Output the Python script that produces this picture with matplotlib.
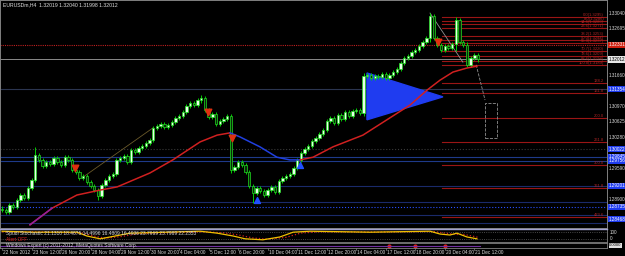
import matplotlib
matplotlib.use("Agg")
import matplotlib.pyplot as plt
from matplotlib.patches import Polygon, Rectangle

plt.rcParams["font.family"] = ["Liberation Sans Narrow", "Liberation Sans", "DejaVu Sans"]

# ====== data ======
title = "EURUSDm,H4  1.32019 1.32040 1.31998 1.32012"

closes = [
    1.2867, 1.2862, 1.2878, 1.2873, 1.2889, 1.2900, 1.2893, 1.2916, 1.2933, 1.2989,
    1.2978, 1.2964, 1.2973, 1.2969, 1.2982, 1.2973, 1.2967, 1.2984, 1.2978, 1.2956,
    1.2951, 1.2938, 1.2942, 1.2929, 1.2920, 1.2911, 1.2898, 1.2922, 1.2933, 1.2942,
    1.2947, 1.2978, 1.2982, 1.2987, 1.2973, 1.3000, 1.2996, 1.3004, 1.3009, 1.3016,
    1.3022, 1.3049, 1.3053, 1.3058, 1.3051, 1.3056, 1.3062, 1.3071, 1.3075, 1.3084,
    1.3098, 1.3104, 1.3100, 1.3111, 1.3115, 1.3089, 1.3073, 1.3080, 1.3058, 1.3064,
    1.3069, 1.3075, 1.2956, 1.2962, 1.2973, 1.2967, 1.2951, 1.2920, 1.2905, 1.2916,
    1.2909, 1.2900, 1.2911, 1.2918, 1.2907, 1.2931, 1.2938, 1.2942, 1.2947, 1.2960,
    1.2978, 1.2993, 1.3002, 1.3009, 1.3020, 1.3027, 1.3036, 1.3044, 1.3064, 1.3071,
    1.3060, 1.3078, 1.3069, 1.3084, 1.3075, 1.3087, 1.3089, 1.3082, 1.3164, 1.3167,
    1.3160, 1.3164, 1.3162, 1.3169, 1.3160, 1.3167, 1.3173, 1.3180, 1.3193, 1.3204,
    1.3209, 1.3218, 1.3222, 1.3231, 1.3240, 1.3249, 1.3297, 1.3249, 1.3233, 1.3222,
    1.3231, 1.3226, 1.3235, 1.3289, 1.3240, 1.3233, 1.3189, 1.3204, 1.3211, 1.3201,
]
first_open = 1.2870
wick_pad = 0.0005
long_wicks = {9: (1.3007, 1.2928), 26: (1.2915, 1.2889), 54: (1.3122, 1.3105),
              62: (1.3080, 1.2950), 68: (1.2925, 1.2882), 116: (1.3304, 1.3240),
              123: (1.3295, 1.3220), 126: (1.3240, 1.3184), 98: (1.3171, 1.3075)}

# moving average, coloured by slope (bar, price)
ma_up1 = [(7.6, 1.2834), (13.6, 1.2871), (20.3, 1.2900), (26.6, 1.2911), (31.2, 1.2918),
          (40.1, 1.2949), (46.3, 1.2978), (53.7, 1.3018), (58.3, 1.3033), (61.8, 1.3038)]
ma_down = [(61.8, 1.3038), (64.5, 1.3029), (69.9, 1.3007), (74.5, 1.2984), (78.0, 1.2978),
           (80.8, 1.2978)]
ma_up2 = [(80.8, 1.2978), (84.3, 1.2984), (89.7, 1.3007), (97.8, 1.3033), (104.3, 1.3067),
          (110.6, 1.3100), (115.2, 1.3133), (118.7, 1.3155), (122.2, 1.3173), (126.0, 1.3182),
          (128.7, 1.3186)]

fib_prices = [1.32953, 1.32864, 1.32797, 1.32708, 1.32531, 1.32442, 1.32375, 1.32198, 1.32087,
              1.31976, 1.31887, 1.31487, 1.31265, 1.30710, 1.30178, 1.29667, 1.29156, 1.28513]
fib_levels = ["0.0", "8.0", "14.6", "23.6", "38.2", "50.0", "55.9", "70.7", "78.6", "88.6",
              "100.0", "138.2", "161.8", "200.0", "261.8", "300.0", "361.8", "423.6"]

hlines = [(1.31354, "#2b3550", "-"), (1.30022, "#3a3a3a", ":"), (1.29845, "#1e3a8a", "-"),
          (1.29756, "#1e3a8a", "-"), (1.29201, "#1a2a6a", "-"), (1.28845, "#1a2a6a", "-"),
          (1.28735, "#2a50ff", ":"), (1.28557, "#1a2a6a", "-"), (1.28379, "#1a2a6a", "-")]
red_line = 1.32331
bid = 1.32012

axis_prices = [1.33040, 1.32695, 1.31660, 1.30970, 1.30625, 1.30280, 1.29590, 1.28900]
blue_boxes = [1.31354, 1.30022, 1.29845, 1.29756, 1.29201, 1.28735, 1.28468]

triangle = [(98.9, 1.3171), (98.9, 1.3067), (119.5, 1.3118)]
olive_line = [(22.0, 1.2940), (40.9, 1.3049)]
gray_diag = [(116.0, 1.3304), (124.9, 1.3195)]
proj_line = [(128.5, 1.3189), (130.9, 1.3111)]
proj_box = (130.9, 1.3027, 3.2, 0.0077)

down_arrows = [(19.8, 1.2960), (55.8, 1.3084), (62.3, 1.3027), (118.2, 1.3240)]
up_arrows = [(69.1, 1.2889), (80.8, 1.2967)]

stoch_main = [(0, 85), (8.4, 77), (20.3, 77), (23, 46), (26.6, 23), (29.3, 38), (34.7, 69),
              (44.7, 77), (53.7, 85), (58.3, 69), (62.6, 46), (65.9, 23), (70.7, 15),
              (75.3, 38), (78.9, 77), (83.5, 85), (99.7, 77), (116, 85), (118.7, 62),
              (121.4, 54), (123.3, 69), (126, 38), (128.7, 23)]
stoch_signal = [(0, 80), (10, 80), (22, 70), (25, 45), (28, 28), (32, 40), (37, 65), (48, 75),
                (55, 80), (60, 72), (64, 55), (68, 30), (72, 20), (77, 35), (81, 70), (86, 80),
                (102, 78), (117, 82), (120, 70), (123, 58), (125, 60), (128, 42), (129, 35)]
stoch_text = "Spudi Stochastic 21.1310 18.4675 14.4996 16.4809 16.4936 23.7969 23.7969 22.2353"
expert_text = "Windows Expert (c) 2011-2012, MetaQuotes Software Corp."

time_labels = ["22 Nov 2012", "23 Nov 12:00", "26 Nov 20:00", "28 Nov 04:00", "29 Nov 12:00",
               "30 Nov 20:00", "4 Dec 04:00", "5 Dec 12:00", "6 Dec 20:00", "10 Dec 04:00",
               "11 Dec 12:00", "12 Dec 20:00", "14 Dec 04:00", "17 Dec 12:00", "18 Dec 20:00",
               "20 Dec 04:00", "21 Dec 12:00"]
bars_per_label = 8

# ====== layout (pixel based) ======
W, H = 625, 256
fig = plt.figure(figsize=(W / 100, H / 100), dpi=100, facecolor="black")
FS = 3.7   # small terminal font
AFS = 3.3  # price scale font
BAR_PX = 3.69  # pixels per bar


def box(x0, y0, x1, y1):
    return [x0 / W, 1 - y1 / H, (x1 - x0) / W, (y1 - y0) / H]


XL = (-2 / BAR_PX, 605 / BAR_PX)
ax = fig.add_axes(box(0, 0, 607, 228), facecolor="black")
ax.set_xlim(*XL)
ax.set_ylim(1.28268, 1.33330)
for s in ax.spines.values():
    s.set_color("#808080")
    s.set_linewidth(0.7)
ax.set_xticks([])
ax.set_yticks([])

# horizontal levels
for p, c, ls in hlines:
    ax.axhline(p, color=c, ls=ls, lw=0.8, zorder=1)
ax.axhline(red_line, color="#c02020", ls=(0, (1, 1)), lw=0.8, zorder=1)
ax.axhline(bid, color="#8a8a8a", lw=0.7, zorder=1)

# fibonacci
for p, lvl in zip(fib_prices, fib_levels):
    ax.plot([119.2, XL[1]], [p, p], color="#9a1515", lw=0.8, zorder=2)
    txt = lvl if float(lvl) > 100 else f"{lvl}({p:.4f})"
    ax.text(604 / BAR_PX - 0.5, p + 0.00004, txt, color="#b02525", fontsize=3.0,
            ha="right", va="bottom", zorder=3)

# candles
opens = [first_open] + closes[:-1]
for i, (o, c) in enumerate(zip(opens, closes)):
    hi, lo = long_wicks.get(i, (max(o, c) + wick_pad, min(o, c) - wick_pad))
    ax.vlines(i, lo, hi, color="#00d000", lw=0.7, zorder=4)
    bull = c >= o
    ax.add_patch(Rectangle((i - 0.32, min(o, c)), 0.64, max(abs(c - o), 0.00008),
                           facecolor="#e8ffe8" if bull else "#0a2a0a",
                           edgecolor="#20e020", lw=0.5, zorder=5))

# moving average
ax.plot(*zip(*ma_up1), color="#d02020", lw=1.1, zorder=6)
ax.plot(*zip(*ma_up1[:2]), color="#9020a0", lw=1.1, zorder=6)
ax.plot(*zip(*ma_down), color="#2040e0", lw=1.1, zorder=6)
ax.plot(*zip(*ma_up2), color="#d02020", lw=1.1, zorder=6)

# objects
ax.add_patch(Polygon(triangle, closed=True, facecolor="#1f3cf0", edgecolor="#1f3cf0", zorder=3))
ax.plot(*zip(*olive_line), color="#6b5a2a", lw=0.6, zorder=3)
ax.plot(*zip(*gray_diag), color="#909090", lw=0.6, zorder=3)
ax.plot(*zip(*proj_line), color="#909090", lw=0.6, ls="--", zorder=3)
ax.add_patch(Rectangle(proj_box[:2], proj_box[2], proj_box[3], fill=False,
                       edgecolor="#909090", lw=0.6, ls="--", zorder=3))
ax.scatter(*zip(*down_arrows), marker="v", s=22, color="#e03010", zorder=7)
ax.scatter(*zip(*up_arrows), marker="^", s=18, color="#2050ff", zorder=7)

fig.text(3 / W, 1 - 5 / H, title, color="#e0e0e0", fontsize=FS, va="center")


# right price scale
def ypix(p):
    return (1.33330 - p) / 0.000222


for p in axis_prices:
    fig.text(609 / W, 1 - ypix(p) / H, f"{p:.5f}", color="#d8d8d8", fontsize=AFS, va="center")


def price_box(p, fc, tc):
    fig.text(609 / W, 1 - ypix(p) / H, f"{p:.5f}", color=tc, fontsize=AFS, va="center",
             bbox=dict(boxstyle="square,pad=0.15", fc=fc, ec="none"))


for p in blue_boxes:
    price_box(p, "#1f3cf0", "white")
price_box(red_line, "#d02010", "white")
price_box(bid, "#e8e8e8", "black")

# stochastic sub window
ax2 = fig.add_axes(box(0, 229, 607, 242), facecolor="black")
ax2.set_xlim(*XL)
ax2.set_ylim(-3, 103)
ax2.set_xticks([])
ax2.set_yticks([])
for s in ax2.spines.values():
    s.set_color("#808080")
    s.set_linewidth(0.6)
ax2.spines["top"].set_color("#a0a0d0")
ax2.spines["top"].set_linewidth(1.0)
for lv in (80, 20):
    ax2.axhline(lv, color="#606060", ls=":", lw=0.6)
ax2.plot(*zip(*stoch_signal), color="#d02020", ls=":", lw=0.9)
ax2.plot(*zip(*stoch_main), color="#f0c000", lw=0.9)
ax2.text(1, 68, stoch_text, color="#d8d8d8", fontsize=3.5, va="center")
ax2.text(1, 18, "Alert OFF", color="#e02020", fontsize=3.5, va="center")
fig.text(610 / W, 1 - 233 / H, "100", color="#d8d8d8", fontsize=AFS, va="center")
fig.text(610 / W, 1 - 239 / H, "0", color="#d8d8d8", fontsize=AFS, va="center")

# expert sub window
ax3 = fig.add_axes(box(0, 243, 607, 248), facecolor="black")
ax3.set_xlim(*XL)
ax3.set_ylim(0, 1)
ax3.set_xticks([])
ax3.set_yticks([])
for s in ax3.spines.values():
    s.set_color("#808080")
    s.set_linewidth(0.6)
ax3.axhline(0.45, xmin=0, xmax=0.79, color="#7030a0", lw=0.8)
ax3.scatter([105, 112, 120], [0.45] * 3, s=4, color="#e02020")
ax3.text(1, 0.55, expert_text, color="#d8d8d8", fontsize=3.5, va="center")
fig.text(609 / W, 1 - 245.5 / H, "0.0000", color="black", fontsize=3.0, va="center",
         bbox=dict(boxstyle="square,pad=0.1", fc="#e0e0e0", ec="none"))

# time axis
for k, lab in enumerate(time_labels):
    bar = bars_per_label * k
    ax3.plot([bar, bar], [0, -0.4], color="#808080", lw=0.5, clip_on=False)
    x = 2 + BAR_PX * bar
    fig.text((x + 1) / W, 1 - 252 / H, lab, color="#d8d8d8", fontsize=3.4, va="center")

fig.savefig("out.png", dpi=100, facecolor="black")
